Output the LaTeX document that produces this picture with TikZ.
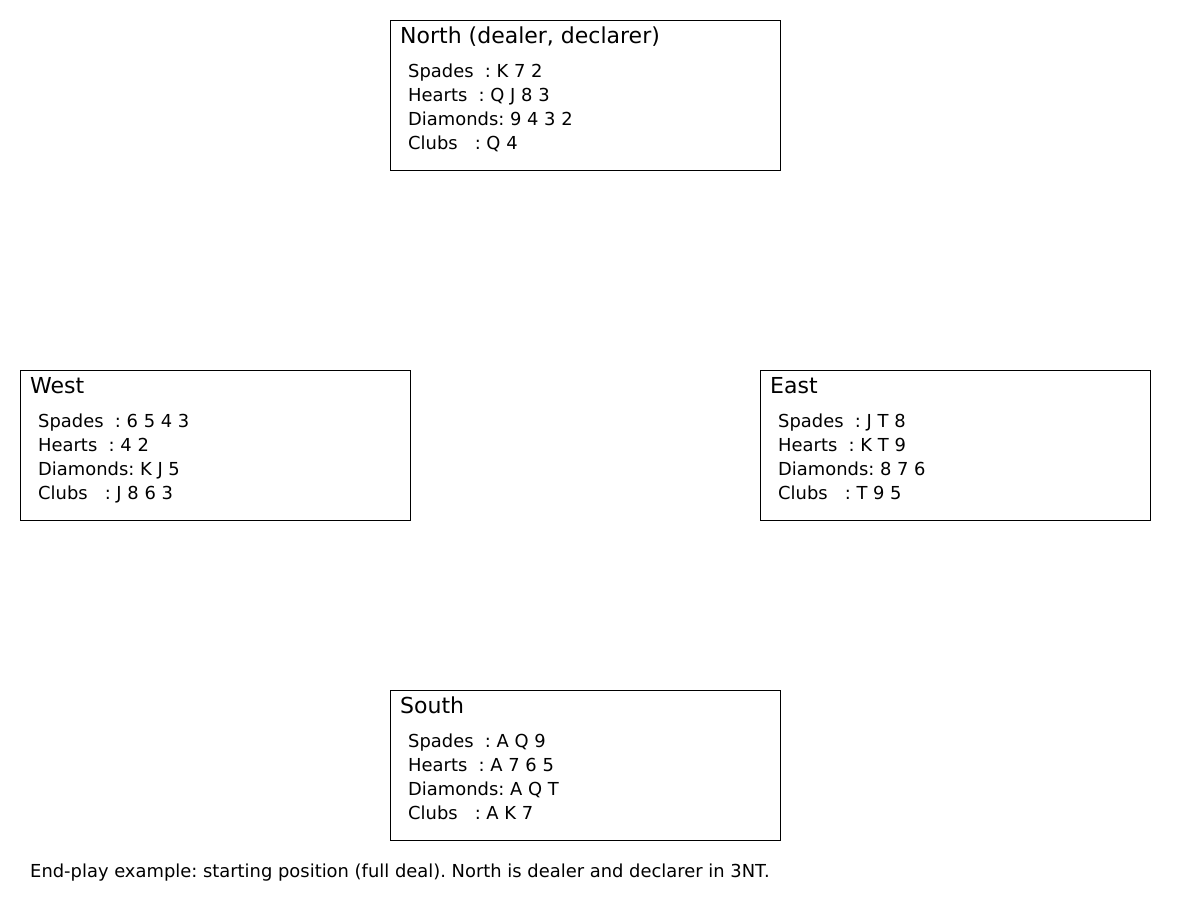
\documentclass[tikz,border=0pt]{standalone}
\usepackage{fontspec}
\setmainfont{DejaVu Sans}
\frenchspacing
\begin{document}
\frenchspacing
\begin{tikzpicture}[x=1pt,y=-1pt,
  hand/.style={draw=black, line width=0.9pt, minimum width=390pt, minimum height=150pt, inner sep=0pt, fill=white},
  ttl/.style={anchor=base west, inner sep=0pt, font=\fontsize{22}{26}\selectfont},
  cards/.style={anchor=base west, inner sep=0pt, font=\fontsize{17.9}{24}\selectfont},
  captxt/.style={anchor=base west, inner sep=0pt, font=\fontsize{17.9}{24}\selectfont}]
\useasboundingbox[fill=white] (0,0) rectangle (1200,900);
% North
\node[hand] (north) at (585,95) {};
\node[ttl] (northT) at (400,43) {North (dealer, declarer)};
\node[cards] (n1) at (408,77) {Spades\ \ : K 7 2};
\node[cards] (n2) at (408,101) {Hearts\ \ : Q J 8 3};
\node[cards] (n3) at (408,125) {Diamonds: 9 4 3 2};
\node[cards] (n4) at (408,149) {Clubs\ \ \ : Q 4};
% West
\node[hand] (west) at (215,445) {};
\node[ttl] (westT) at (30,393) {West};
\node[cards] (w1) at (38,427) {Spades\ \ : 6 5 4 3};
\node[cards] (w2) at (38,451) {Hearts\ \ : 4 2};
\node[cards] (w3) at (38,475) {Diamonds: K J 5};
\node[cards] (w4) at (38,499) {Clubs\ \ \ : J 8 6 3};
% East
\node[hand] (east) at (955,445) {};
\node[ttl] (eastT) at (770,393) {East};
\node[cards] (e1) at (778,427) {Spades\ \ : J T 8};
\node[cards] (e2) at (778,451) {Hearts\ \ : K T 9};
\node[cards] (e3) at (778,475) {Diamonds: 8 7 6};
\node[cards] (e4) at (778,499) {Clubs\ \ \ : T 9 5};
% South
\node[hand] (south) at (585,765) {};
\node[ttl] (southT) at (400,713) {South};
\node[cards] (s1) at (408,747) {Spades\ \ : A Q 9};
\node[cards] (s2) at (408,771) {Hearts\ \ : A 7 6 5};
\node[cards] (s3) at (408,795) {Diamonds: A Q T};
\node[cards] (s4) at (408,819) {Clubs\ \ \ : A K 7};
% Caption
\node[captxt] (caption) at (30,877) {End-play example: starting position (full deal). North is dealer and declarer in 3NT.};
\end{tikzpicture}
\end{document}
